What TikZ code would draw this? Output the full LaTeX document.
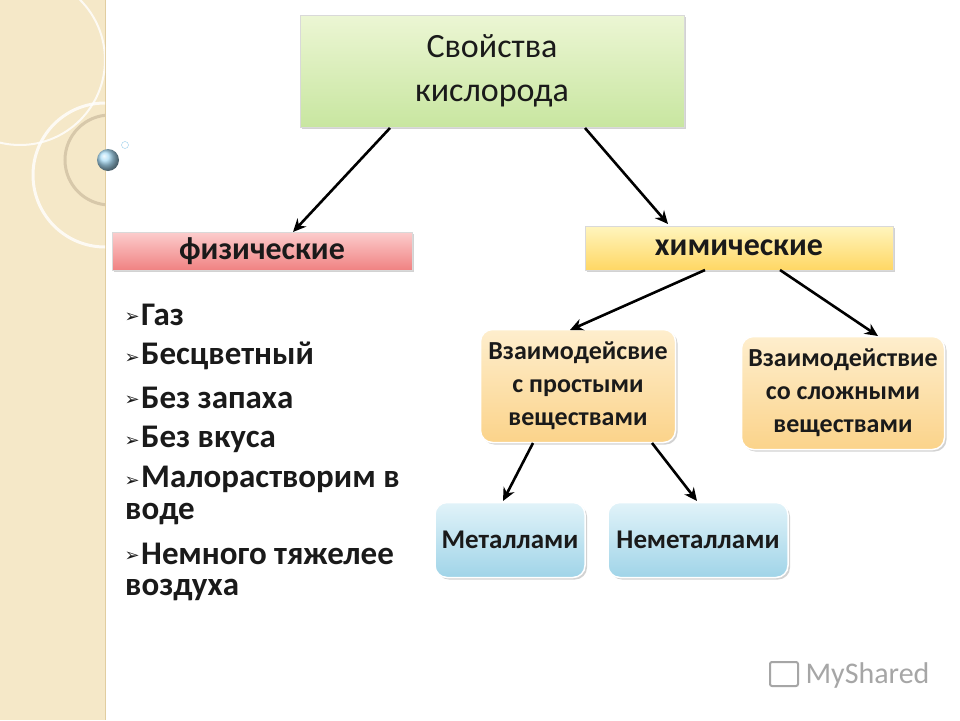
\documentclass[tikz,border=0pt]{standalone}
\usepackage{fontspec}
\setmainfont{Carlito}
\newfontfamily\dejavu{DejaVu Sans}
\usetikzlibrary{arrows.meta,shadows}
\definecolor{txt}{HTML}{1A1A1A}
\tikzset{
  arr/.style={line width=2.6pt,-{Stealth[length=13pt,width=12pt]}},
  sq/.style={draw=white!85!black,line width=0.6pt,drop shadow={opacity=0.35,shadow xshift=2pt,shadow yshift=-2pt}},
  rb/.style={sq,rounded corners=12pt,draw=white,line width=1.5pt},
  blt/.style={anchor=west,text=txt,font=\fontsize{33}{36}\selectfont\bfseries,align=left,inner sep=0pt},
}
\begin{document}
\begin{tikzpicture}[x=1pt,y=-1pt]
\useasboundingbox (0,0) rectangle (960,720);
\fill[white] (0,0) rectangle (960,720);
% left strip
\fill[color={rgb,255:red,245;green,232;blue,200}] (0,0) rectangle (105,720);
\draw[color={rgb,255:red,225;green,205;blue,160},line width=1pt] (105,0) -- (105,720);
\begin{scope}
\clip (0,0) rectangle (105,300);
\draw[white,line width=3pt,opacity=0.8] (105,175) circle (72);
\draw[color={rgb,255:red,215;green,200;blue,170},line width=3pt] (110,160) circle (45);
\draw[white,line width=2pt,opacity=0.8] (20,60) circle (85);
\end{scope}
\shade[ball color={rgb,255:red,170;green,220;blue,245}] (108,160) circle (11);
\draw[color={rgb,255:red,150;green,205;blue,235}] (125,145) circle (3.5);
% boxes
\node[sq,top color={rgb,255:red,236;green,246;blue,212},bottom color={rgb,255:red,200;green,230;blue,160},minimum width=384pt,minimum height=112pt,align=center,font=\fontsize{34}{44}\selectfont,text=txt] (top) at (492,71) {Свойства\\кислорода};
\node[sq,top color={rgb,255:red,252;green,205;blue,205},bottom color={rgb,255:red,240;green,130;blue,130},minimum width=300pt,minimum height=38pt,font=\fontsize{32}{34}\selectfont\bfseries,text=txt,inner sep=0pt] (fiz) at (262,251) {физические};
\node[sq,top color={rgb,255:red,255;green,245;blue,190},bottom color={rgb,255:red,255;green,215;blue,100},minimum width=308pt,minimum height=44pt,font=\fontsize{32}{34}\selectfont\bfseries,text=txt,inner sep=0pt] (him) at (739,248) {химические};
\node[rb,top color={rgb,255:red,254;green,238;blue,205},bottom color={rgb,255:red,251;green,211;blue,138},minimum width=195pt,minimum height=113pt,align=center,font=\fontsize{26}{33}\selectfont\bfseries,text=txt,inner sep=0pt] (p) at (578,386) {Взаимодейсвие\\с простыми\\веществами};
\node[rb,top color={rgb,255:red,254;green,238;blue,205},bottom color={rgb,255:red,251;green,211;blue,138},minimum width=203pt,minimum height=113pt,align=center,font=\fontsize{26}{33}\selectfont\bfseries,text=txt,inner sep=0pt] (s) at (843,393) {Взаимодействие\\со сложными\\веществами};
\node[rb,top color={rgb,255:red,225;green,243;blue,249},bottom color={rgb,255:red,160;green,212;blue,232},minimum width=150pt,minimum height=75pt,font=\fontsize{27}{30}\selectfont\bfseries,text=txt,inner sep=0pt] (m) at (510,540) {Металлами};
\node[rb,top color={rgb,255:red,225;green,243;blue,249},bottom color={rgb,255:red,160;green,212;blue,232},minimum width=180pt,minimum height=75pt,font=\fontsize{27}{30}\selectfont\bfseries,text=txt,inner sep=0pt] (n) at (698,540) {Неметаллами};
% arrows
\coordinate (a1) at (390,128); \coordinate (a2) at (585,128);
\coordinate (b1) at (705,270); \coordinate (b2) at (780,270);
\coordinate (c1) at (533,443); \coordinate (c2) at (652,443);
\draw[arr] (a1) -- (293,232);
\draw[arr] (a2) -- (668,224);
\draw[arr] (b1) -- (570,330);
\draw[arr] (b2) -- (878,336);
\draw[arr] (c1) -- (503,501);
\draw[arr] (c2) -- (697,501);
% bullets
\foreach \y/\t in {315/Газ,356/Бесцветный,398/Без запаха,439/Без вкуса,479/Малорастворим в,554/Немного тяжелее}{
  \node[anchor=east,font=\dejavu\fontsize{18}{20}\selectfont,text=txt,inner sep=0] at (140,\y+3) {➢};
  \node[blt] at (141,\y) {\t};
}
\node[blt] at (125,514) {воде};
\node[blt] at (125,590) {воздуха};
% watermark
\node[anchor=west,text=gray!70,font=\fontsize{30}{32}\selectfont] (wm) at (802,675) {MyShared};
\draw[gray!70,line width=2pt,rounded corners=2pt] (770,662) rectangle (798,686);
\end{tikzpicture}
\end{document}
